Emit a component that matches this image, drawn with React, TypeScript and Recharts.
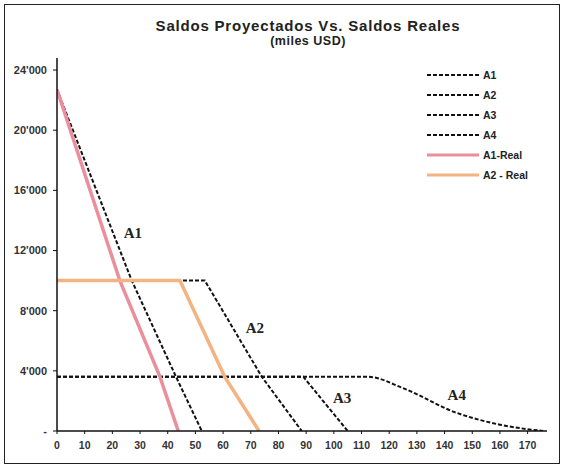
import {
  LineChart,
  Line,
  XAxis,
  YAxis,
  ReferenceDot,
} from "recharts";

// x = months, y = balance (miles USD)
const a1X = [0, 27, 43, 52.3];
const a1Y = [22700, 10000, 3600, 0];
const a2X = [0, 53.4, 74, 88.4];
const a2Y = [10000, 10000, 3600, 0];
const a3X = [0, 89, 105];
const a3Y = [3600, 3600, 0];
const a4X = [0, 112.4, 125, 144, 160, 175.6];
const a4Y = [3600, 3600, 2850, 1230, 420, 0];
const a1RealX = [0, 22.7, 37.2, 43.8];
const a1RealY = [22700, 10000, 3600, 0];
const a2RealX = [0, 44.4, 60.6, 73];
const a2RealY = [10000, 10000, 3600, 0];

const xTicks = [0, 10, 20, 30, 40, 50, 60, 70, 80, 90, 100, 110, 120, 130, 140, 150, 160, 170];
const yTicks = [0, 4000, 8000, 12000, 16000, 20000, 24000];

// in-plot series labels
const tagNames = ["A1", "A2", "A3", "A4"];
const tagX = [27.4, 71.5, 103, 144.4];
const tagY = [13200, 6850, 2230, 2390];

const toPoints = (xs: number[], ys: number[]) => xs.map((x, i) => ({ x, y: ys[i] }));

const series = [
  { name: "A1", data: toPoints(a1X, a1Y), color: "#111", dash: "4 2", width: 2, type: "linear" },
  { name: "A2", data: toPoints(a2X, a2Y), color: "#111", dash: "4 2", width: 2, type: "linear" },
  { name: "A3", data: toPoints(a3X, a3Y), color: "#111", dash: "4 2", width: 2, type: "linear" },
  { name: "A4", data: toPoints(a4X, a4Y), color: "#111", dash: "4 2", width: 2, type: "monotone" },
  { name: "A1-Real", data: toPoints(a1RealX, a1RealY), color: "#ea8f9e", dash: undefined, width: 3.5, type: "linear" },
  { name: "A2 - Real", data: toPoints(a2RealX, a2RealY), color: "#f4b383", dash: undefined, width: 3.5, type: "linear" },
];

const sans = "'Liberation Sans', Arial, sans-serif";

const fmtY = (v: number) =>
  v === 0 ? "-" : String(v).replace(/\B(?=(\d{3})+(?!\d))/g, "'");

function LegendList() {
  return (
    <div style={{ position: "absolute", left: 427, top: 65 }}>
      {series.map((s) => (
        <div key={s.name} style={{ height: 20, display: "flex", alignItems: "center" }}>
          <svg width={52} height={10}>
            <line
              x1={0}
              y1={5}
              x2={52}
              y2={5}
              stroke={s.color}
              strokeWidth={s.dash ? 2 : 3}
              strokeDasharray={s.dash}
            />
          </svg>
          <span
            style={{
              marginLeft: 4,
              fontFamily: sans,
              fontWeight: "bold",
              fontSize: 10.5,
              color: "#222",
            }}
          >
            {s.name}
          </span>
        </div>
      ))}
    </div>
  );
}

export default function App() {
  return (
    <div style={{ position: "absolute", left: 0, top: 0, width: 564, height: 472, background: "#fff" }}>
      <div
        style={{
          position: "absolute",
          left: 4,
          top: 4,
          width: 554,
          height: 458,
          border: "1.5px solid #222",
        }}
      />
      <div
        style={{
          position: "absolute",
          left: 0,
          width: 616,
          top: 17,
          textAlign: "center",
          fontFamily: sans,
          fontWeight: "bold",
          color: "#222",
        }}
      >
        <div style={{ fontSize: 15, lineHeight: "17px", letterSpacing: 0.8 }}>
          Saldos Proyectados Vs. Saldos Reales
        </div>
        <div style={{ fontSize: 12.5, lineHeight: "15px", letterSpacing: 0.5 }}>(miles USD)</div>
      </div>
      <div style={{ position: "absolute", left: 0, top: 0 }}>
        <LineChart width={564} height={472} margin={{ top: 58, right: 17, bottom: 11, left: 0 }}>
          <XAxis
            type="number"
            dataKey="x"
            domain={[0, 177]}
            ticks={xTicks}
            interval={0}
            height={30}
            allowDataOverflow
            axisLine={{ stroke: "#111", strokeWidth: 1.5 }}
            tickLine={{ stroke: "#111" }}
            tickSize={3}
            tickMargin={8}
            tick={{ fill: "#333", fontSize: 10.5, fontWeight: "bold", fontFamily: sans }}
          />
          <YAxis
            type="number"
            dataKey="y"
            domain={[0, 24800]}
            ticks={yTicks}
            interval={0}
            width={57}
            allowDataOverflow
            tickFormatter={fmtY}
            axisLine={{ stroke: "#111", strokeWidth: 1.5 }}
            tickLine={{ stroke: "#111" }}
            tickSize={4}
            tickMargin={6}
            tick={{ fill: "#333", fontSize: 11, fontWeight: "bold", fontFamily: sans }}
          />
          {series.map((s) => (
            <Line
              key={s.name}
              data={s.data}
              dataKey="y"
              name={s.name}
              type={s.type as "linear" | "monotone"}
              stroke={s.color}
              strokeWidth={s.width}
              strokeDasharray={s.dash}
              dot={false}
              activeDot={false}
              isAnimationActive={false}
            />
          ))}
          {tagNames.map((t, i) => (
            <ReferenceDot
              key={t}
              x={tagX[i]}
              y={tagY[i]}
              r={0}
              fill="none"
              stroke="none"
              label={{
                value: t,
                position: "center",
                fill: "#222",
                fontSize: 15,
                fontWeight: "bold",
                fontFamily: "'Liberation Serif', 'Times New Roman', serif",
              }}
            />
          ))}
        </LineChart>
      </div>
      <LegendList />
    </div>
  );
}
